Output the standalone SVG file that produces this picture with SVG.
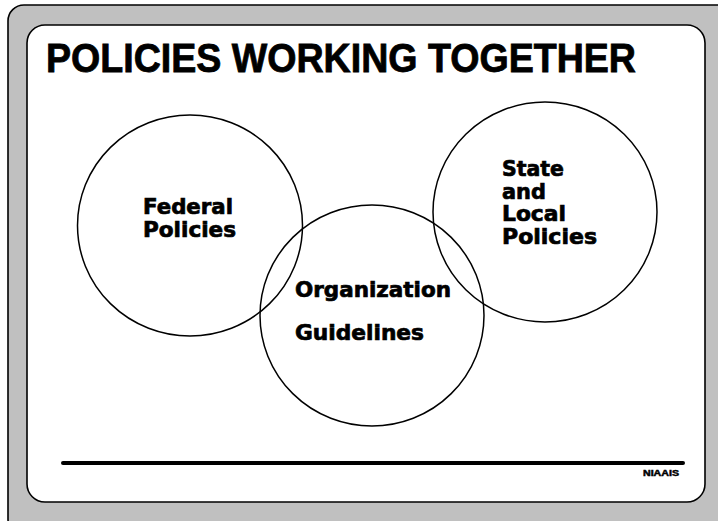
<svg xmlns="http://www.w3.org/2000/svg" width="718" height="521" viewBox="0 0 718 521">
<style>
.frame{fill:#c0c0c0;stroke:#000;stroke-width:1.6}
.panel{fill:#fff;stroke:#000;stroke-width:1.6}
.circ{fill:none;stroke:#000;stroke-width:1.5}
.lbl{font-family:"DejaVu Sans","Liberation Sans",sans-serif;font-weight:bold;font-size:21px;fill:#000;stroke:#000;stroke-width:0.7}
.title{font-family:"Liberation Sans",Arial,sans-serif;font-weight:bold;font-size:40px;fill:#000;stroke:#000;stroke-width:0.8}
.code{font-family:"Liberation Sans",Arial,sans-serif;font-weight:bold;font-size:9px;fill:#000;stroke:#000;stroke-width:0.5}
</style>
<rect class="frame" x="8" y="5" width="730" height="530" rx="16"/>
<rect class="panel" x="27" y="25" width="678" height="477" rx="18"/>
<text class="title" x="46" y="72" textLength="590" lengthAdjust="spacingAndGlyphs">POLICIES WORKING TOGETHER</text>
<g id="connectors"></g>
<g id="federal">
<ellipse class="circ" cx="190" cy="225.5" rx="112.5" ry="110.5"/>
<text class="lbl" x="143" y="214" textLength="90" lengthAdjust="spacingAndGlyphs">Federal</text>
<text class="lbl" x="143" y="237" textLength="93" lengthAdjust="spacingAndGlyphs">Policies</text>
</g>
<g id="organization">
<ellipse class="circ" cx="372" cy="315.5" rx="112" ry="110.5"/>
<text class="lbl" x="295" y="297" textLength="156" lengthAdjust="spacingAndGlyphs">Organization</text>
<text class="lbl" x="295" y="340" textLength="129" lengthAdjust="spacingAndGlyphs">Guidelines</text>
</g>
<g id="state">
<ellipse class="circ" cx="545" cy="212" rx="112" ry="110"/>
<text class="lbl" x="502" y="176" textLength="62" lengthAdjust="spacingAndGlyphs">State</text>
<text class="lbl" x="502" y="199" textLength="44" lengthAdjust="spacingAndGlyphs">and</text>
<text class="lbl" x="502" y="221" textLength="64" lengthAdjust="spacingAndGlyphs">Local</text>
<text class="lbl" x="502" y="244" textLength="95" lengthAdjust="spacingAndGlyphs">Policies</text>
</g>
<line x1="63" y1="463" x2="683" y2="463" stroke="#000" stroke-width="4" stroke-linecap="round"/>
<text class="code" x="643" y="476" textLength="36" lengthAdjust="spacingAndGlyphs">NIAAIS</text>
</svg>
